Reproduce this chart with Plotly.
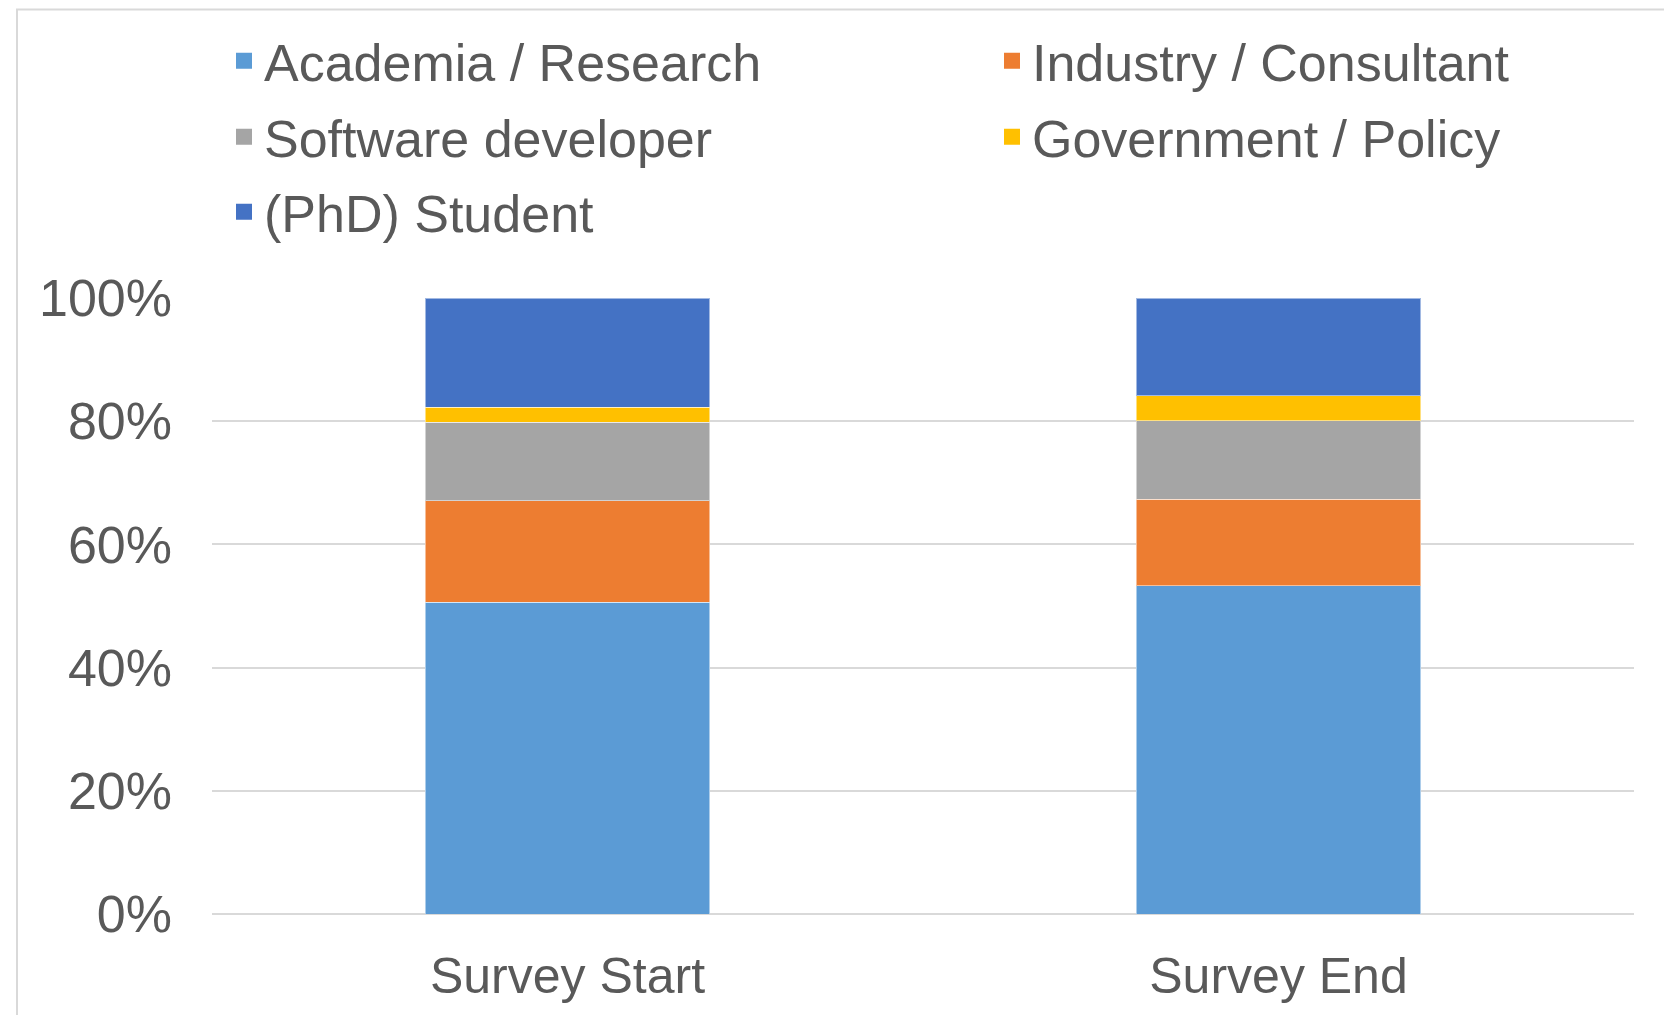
import plotly.graph_objects as go

categories = ["Survey Start", "Survey End"]
series_names = ["Academia / Research", "Industry / Consultant", "Software developer",
                "Government / Policy", "(PhD) Student"]
academia = [50.6, 53.3]
industry = [16.5, 14.0]
software = [12.7, 12.8]
government = [2.5, 4.0]
student = [17.7, 15.9]
y_ticks = [0, 20, 40, 60, 80, 100]
y_tick_labels = ["0%", "20%", "40%", "60%", "80%", "100%"]

values = [academia, industry, software, government, student]
colors = ["#5B9BD5", "#ED7D31", "#A5A5A5", "#FFC000", "#4472C4"]
legend_ids = ["legend", "legend2", "legend3", "legend4", "legend5"]

OFF = 8  # page body margin
W, H = 1672 - 2 * OFF, 1023 - 2 * OFF
# screen coordinates of plot area: x 212..1634, y 298..914
L = 212 - OFF
T = 298 - OFF
R = W - (1634 - OFF)
B = H - (914 - OFF)
pw, ph = W - L - R, H - T - B

def px_x(x):  # screen px -> paper
    return (x - OFF - L) / pw

def px_y(y):
    return (H - B - (y - OFF)) / ph

FONT = "Liberation Sans, Arial, sans-serif"
TXT = "#595959"

fig = go.Figure()
for name, vals, col, lg in zip(series_names, values, colors, legend_ids):
    fig.add_trace(go.Bar(
        x=categories, y=vals, name=name, legendgroup=name, showlegend=False,
        marker=dict(color=col, line=dict(color="rgba(255,255,255,0.5)", width=1)),
        hoverinfo="x+y+name",
    ))
    # legend entry with a larger square swatch
    fig.add_trace(go.Scatter(
        x=[None], y=[None], mode="markers", name=name, legendgroup=name, legend=lg,
        marker=dict(symbol="square", size=16, color=col), hoverinfo="skip",
    ))

leg_pos = {
    "legend": (224, 61),
    "legend2": (992, 61),
    "legend3": (224, 137),
    "legend4": (992, 137),
    "legend5": (224, 212),
}
layout_legends = {}
for lg, (lx, ly) in leg_pos.items():
    layout_legends[lg] = dict(
        x=px_x(lx), y=px_y(ly), xanchor="left", yanchor="middle",
        bgcolor="rgba(0,0,0,0)", borderwidth=0,
        font=dict(family=FONT, size=52, color=TXT),
        itemclick=False, itemdoubleclick=False,
    )

fig.update_layout(
    width=W, height=H,
    margin=dict(l=L, r=R, t=T, b=B, pad=0),
    barmode="stack",
    bargap=0.6,
    plot_bgcolor="white",
    paper_bgcolor="white",
    font=dict(family=FONT, size=50, color=TXT),
    showlegend=True,
    **layout_legends,
    xaxis=dict(
        showgrid=False, showline=False, zeroline=False, ticks="",
        tickfont=dict(family=FONT, size=50, color=TXT),
        ticklabelstandoff=28,
    ),
    yaxis=dict(
        range=[0, 100], tickmode="array", tickvals=y_ticks, ticktext=y_tick_labels,
        showgrid=True, gridcolor="#D9D9D9", gridwidth=2,
        zeroline=True, zerolinecolor="#D9D9D9", zerolinewidth=2,
        showline=False, ticks="",
        tickfont=dict(family=FONT, size=52, color=TXT),
        ticklabelstandoff=39,
    ),
    shapes=[dict(
        type="rect", xref="paper", yref="paper",
        x0=px_x(17), x1=px_x(1700), y0=px_y(1100), y1=px_y(9.5),
        line=dict(color="#D9D9D9", width=2), fillcolor="rgba(0,0,0,0)", layer="below",
    )],
)

fig.write_html("out.html")
